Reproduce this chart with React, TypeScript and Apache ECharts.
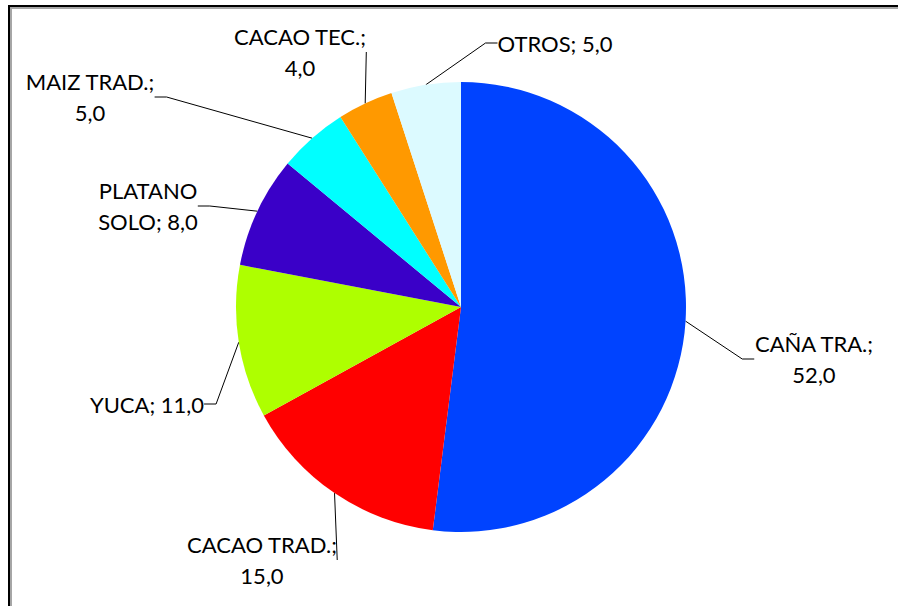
import React, { useEffect, useRef } from "react";
import * as echarts from "echarts";

const categories = [
  "CAÑA TRA.",
  "CACAO TRAD.",
  "YUCA",
  "PLATANO SOLO",
  "MAIZ TRAD.",
  "CACAO TEC.",
  "OTROS",
];
const values = [52.0, 15.0, 11.0, 8.0, 5.0, 4.0, 5.0];
const labelTexts = [
  "CAÑA TRA.;\n52,0",
  "CACAO TRAD.;\n15,0",
  "YUCA; 11,0",
  "PLATANO\nSOLO; 8,0",
  "MAIZ TRAD.;\n5,0",
  "CACAO TEC.;\n4,0",
  "OTROS; 5,0",
];
const colors = ["#0043FF", "#FF0000", "#AEFF00", "#3A00C8", "#00FFFF", "#FF9900", "#DCFAFF"];

// label block centres (layout only)
const labelPos: [number, number][] = [
  [814, 359],
  [262, 560],
  [147, 404],
  [148, 206],
  [90, 97],
  [300, 52],
  [555, 43],
];

export default function App() {
  const ref = useRef<HTMLDivElement>(null);
  useEffect(() => {
    if (!ref.current) return;
    const chart = echarts.init(ref.current, undefined, { renderer: "svg" });
    chart.setOption({
      animation: false,
      backgroundColor: "#FFFFFF",
      graphic: [
        { type: "line", shape: { x1: 9, y1: 5, x2: 9, y2: 606 }, style: { stroke: "#000000", lineWidth: 2 }, silent: true },
        { type: "line", shape: { x1: 8, y1: 6, x2: 898, y2: 6 }, style: { stroke: "#000000", lineWidth: 2 }, silent: true },
        { type: "line", shape: { x1: 11, y1: 7, x2: 11, y2: 606 }, style: { stroke: "#A6A6A6", lineWidth: 2 }, silent: true },
        { type: "line", shape: { x1: 10, y1: 8, x2: 898, y2: 8 }, style: { stroke: "#A6A6A6", lineWidth: 2 }, silent: true },
      ],
      series: [
        {
          type: "pie",
          center: [461, 307],
          radius: 225,
          startAngle: 90,
          clockwise: true,
          data: categories.map((c, i) => ({
            name: c,
            value: values[i],
            itemStyle: { color: colors[i] },
          })),
          itemStyle: { borderWidth: 0 },
          label: {
            show: true,
            formatter: (p: any) => labelTexts[p.dataIndex],
            color: "#000000",
            fontFamily: "Lato",
            fontSize: 22,
            lineHeight: 31,
            align: "center",
          },
          labelLine: {
            show: true,
            length: 20,
            length2: 12,
            lineStyle: { color: "#000000", width: 1 },
          },
          labelLayout: (params: any) => {
            const p = labelPos[params.dataIndex];
            return {
              x: p[0],
              y: p[1],
              align: "center",
              verticalAlign: "middle",
            };
          },
        },
      ],
    });
    return () => chart.dispose();
  }, []);
  return (
    <div
      ref={ref}
      style={{ position: "absolute", left: 0, top: 0, width: 898, height: 606 }}
    />
  );
}
